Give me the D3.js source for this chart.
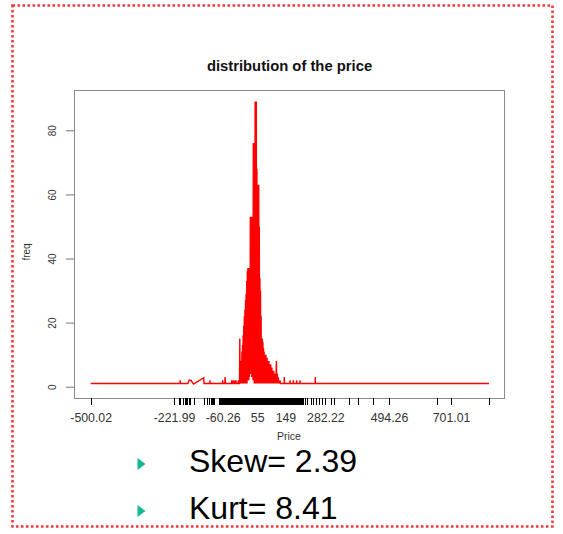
<!DOCTYPE html>
<html>
<head>
<meta charset="utf-8">
<script src="https://cdn.jsdelivr.net/npm/d3@7"></script>
<style>
  html, body { margin: 0; padding: 0; background: #fff; }
  svg { display: block; font-family: "Liberation Sans", Arial, sans-serif; }
</style>
</head>
<body>
<svg id="chart" width="563" height="534"></svg>
<script>
// Frequency of each observed price, traced in price order (one vertex per price).
const prices = [
  -500.02, -221.99, -202, -202, -201, -176, -172, -166, -157, -123, -122.5,
  -103, -102.4, -102, -61, -60, -59, -53, -52, -51, -31, -30, -29,
  -25, -24.5, -24, -20, -19, -18, -16, -15, -9, -8, -7,
  -4, -3, -2, 0, 1, 2, 3, 4, 5, 6, 7, 8, 9, 10, 11, 12, 13, 14, 15, 16, 17, 18, 19,
  20, 21, 22, 23, 24, 25, 26, 27, 28, 29, 30, 31, 32, 33, 34, 35, 36, 37, 38, 39,
  40, 41, 42, 43, 44, 45, 46, 47, 48, 49, 50, 51, 52, 53, 54, 55, 56, 57, 58, 59,
  60, 61, 62, 63, 64, 65, 66, 67, 68, 69, 70, 71, 72, 73, 74, 75, 76, 77, 78, 79,
  80, 81, 82, 83, 84, 85, 86, 87, 88, 89, 90, 91, 92, 93, 94, 95, 96, 97, 98, 99,
  100, 101, 102, 103, 104, 105, 106, 107, 108, 109, 110, 111, 112, 113, 114, 115,
  116, 117, 119, 120, 122, 123, 125, 126, 128, 129, 131, 132,
  145, 145.3, 146, 164, 164.3, 165, 175, 175.4, 176, 186, 186.6, 187,
  197, 197.6, 198, 248, 248.6, 249, 827.6
];
const freqs = [
  1, 1, 1, 2, 1, 1, 2, 2, 0.8, 2.8, 1,
  1, 2, 1, 1, 2, 1, 1, 3, 1, 1, 2, 1,
  1, 2, 1, 1, 2, 1, 2, 1, 1, 2, 1,
  1, 15, 1, 6, 1, 8, 1, 11, 1, 13, 1, 16, 1, 19, 1, 22, 1, 24, 1, 27, 1, 29, 1,
  33, 1, 36, 2, 37, 2, 37, 2, 37, 3, 37, 4, 53, 4, 53, 4, 53, 3, 53, 3,
  53, 2, 76, 2, 76, 1, 76, 1, 89, 1, 89, 1, 89, 1, 68, 1, 63, 1, 63, 1,
  63, 1, 50, 1, 34, 1, 30, 1, 22, 1, 15, 1, 15, 1, 14, 1, 12, 1, 11, 1,
  10, 1, 10, 1, 10, 1, 9, 1, 9, 1, 8, 1, 8, 1, 8, 1, 7, 1, 7, 1,
  7, 1, 6, 1, 6, 1, 5, 1, 5, 1, 5, 1, 4, 1, 4, 1,
  3, 1, 8, 1, 4, 1, 3, 1, 2, 1, 2, 1,
  1, 3, 1, 1, 2, 1, 1, 2, 1, 1, 2, 1,
  1, 2, 1, 1, 3, 1, 1
];

// Distinct prices marked along the x axis, and the ones that carry a label.
const rugPrices = [
  -500.02, -221.99, -204, -193, -184, -178, -171, -156, -122, -112, -106, -100, -94, -88,
  -71, -67, -64, -60.26, -56, -52, -49, -46, -42, -39,
  -36, -33, -30, -27, -24, -21, -18, -15, -12, -9, -6, -3, 0, 3, 6, 9, 12, 15, 18,
  21, 24, 27, 30, 33, 36, 39, 42, 45, 48, 51, 54, 55, 57, 60, 63, 66, 69, 72, 75,
  78, 81, 84, 87, 90, 93, 96, 99, 102, 105, 108, 111, 114, 117, 120, 123, 126, 129,
  132, 135, 138, 141, 144, 147, 149, 150, 153, 156, 159, 162, 165, 168, 171, 174,
  177, 180, 183, 186, 189, 192, 195, 198, 201, 204,
  208, 214, 220, 234, 242, 252, 260, 272, 282.22, 300, 312, 362, 390, 440,
  494.26, 653, 701.01, 827.6
];
const labelPrices = [-500.02, -221.99, -60.26, 55, 149, 282.22, 494.26, 701.01];
const labelTexts = ["-500.02", "-221.99", "-60.26", "55", "149", "282.22", "494.26", "701.01"];
const freqTicks = [0, 20, 40, 60, 80];

// Moment statistics listed under the plot.
const statNames = ["Skew", "Kurt"];
const statValues = [2.39, 8.41];

const svg = d3.select("#chart");

// Dotted slide frame
svg.append("rect")
  .attr("x", 12.5).attr("y", 5.5)
  .attr("width", 540).attr("height", 521)
  .attr("fill", "none")
  .attr("stroke", "#ee3b3b")
  .attr("stroke-width", 2.6)
  .attr("stroke-dasharray", "2.6,2.4");

// Plot region
const box = { left: 74, right: 504, top: 90, bottom: 398 };

const x = d3.scaleLinear().domain([-500.02, 827.6]).range([90.7, 489]);
const y = d3.scaleLinear().domain([0, 80]).range([386.7, 130.3]);

// Title
svg.append("text")
  .attr("x", (box.left + box.right) / 2 + 0.5).attr("y", 71)
  .attr("text-anchor", "middle")
  .attr("font-size", 14.8).attr("font-weight", "bold")
  .attr("fill", "#111")
  .text("distribution of the price");

// Frequency line
const pts = prices.map((p, i) => [p, freqs[i]]);
svg.append("path")
  .datum(pts)
  .attr("fill", "none")
  .attr("stroke", "#ff0000")
  .attr("stroke-width", 1.4)
  .attr("stroke-linejoin", "miter")
  .attr("d", d3.line().x(d => x(d[0])).y(d => y(d[1])));

// Plot frame
svg.append("rect")
  .attr("x", box.left + 0.5).attr("y", box.top + 0.5)
  .attr("width", box.right - box.left).attr("height", box.bottom - box.top)
  .attr("fill", "none")
  .attr("stroke", "#8a8a8a")
  .attr("stroke-width", 1);

// X axis: a tick at every distinct price, labels at a few of them
const labelMap = new Map(labelPrices.map((p, i) => [p, labelTexts[i]]));
const xAxis = svg.append("g")
  .attr("transform", `translate(0,${box.bottom})`)
  .call(d3.axisBottom(x).tickValues(rugPrices).tickSize(6.5)
    .tickFormat(d => labelMap.has(d) ? labelMap.get(d) : ""));
xAxis.select(".domain").remove();
xAxis.selectAll(".tick line")
  .attr("stroke", "#000")
  .attr("stroke-width", 1.2)
  .attr("shape-rendering", "crispEdges");
xAxis.selectAll(".tick text")
  .attr("y", 15)
  .attr("font-size", 12.3)
  .attr("font-family", "Liberation Sans, Arial, sans-serif")
  .attr("fill", "#333");

// Y axis with labels turned parallel to the axis
const yAxis = svg.append("g")
  .attr("transform", `translate(${box.left},0)`)
  .call(d3.axisLeft(y).tickValues(freqTicks).tickSize(8));
yAxis.select(".domain").remove();
yAxis.selectAll(".tick line").attr("stroke", "#777");
yAxis.selectAll(".tick text")
  .attr("transform", "rotate(-90)")
  .attr("x", 0).attr("y", -22).attr("dy", "0.35em")
  .attr("text-anchor", "middle")
  .attr("font-size", 10)
  .attr("font-family", "Liberation Sans, Arial, sans-serif")
  .attr("fill", "#333");

// Axis titles
svg.append("text")
  .attr("x", (box.left + box.right) / 2).attr("y", 440)
  .attr("text-anchor", "middle")
  .attr("font-size", 10.5).attr("fill", "#333")
  .text("Price");
svg.append("text")
  .attr("transform", `translate(30,${(box.top + box.bottom) / 2 + 8}) rotate(-90)`)
  .attr("text-anchor", "middle")
  .attr("font-size", 10).attr("fill", "#333")
  .text("freq");

// Statistics bullets
const rows = svg.selectAll("g.stat")
  .data(statNames.map((n, i) => ({ name: n, value: statValues[i] })))
  .join("g")
  .attr("class", "stat")
  .attr("transform", (d, i) => `translate(0,${464 + i * 47})`);
rows.append("path")
  .attr("d", "M137.5,-6L145.5,0L137.5,6Z")
  .attr("fill", "#16b894");
rows.append("text")
  .attr("x", 189).attr("y", 8)
  .attr("font-size", 32).attr("fill", "#000")
  .text(d => `${d.name}= ${d.value.toFixed(2)}`);
</script>
</body>
</html>
